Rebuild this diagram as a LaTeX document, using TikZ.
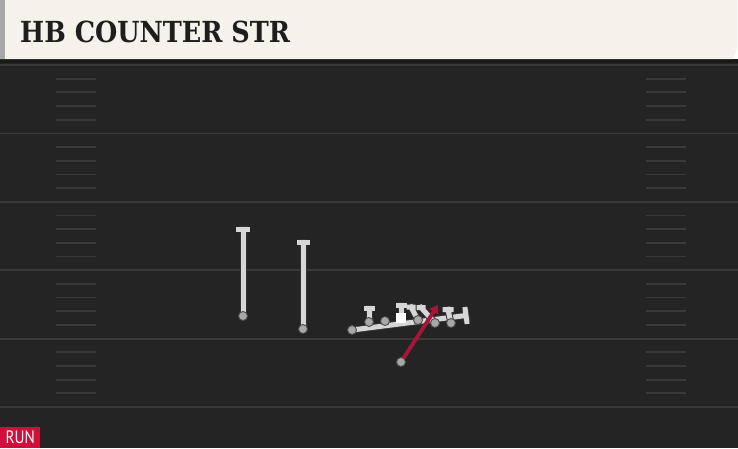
\documentclass[tikz,border=0pt]{standalone}
\usepackage{fontspec}
\usetikzlibrary{arrows.meta}
\newfontfamily\titlefont{DejaVu Serif}
\newfontfamily\tagfont{PT Sans}
\definecolor{field}{HTML}{242424}
\definecolor{yard}{HTML}{3A3A3A}
\definecolor{paper}{HTML}{F5F2EB}
\definecolor{ink}{HTML}{1E1E1E}
\definecolor{routegray}{HTML}{D6D6D6}
\definecolor{dotgray}{HTML}{A8A8A8}
\definecolor{runred}{HTML}{A8153A}
\definecolor{tagred}{HTML}{D0103A}
\pgfdeclarelayer{front}
\pgfsetlayers{main,front}

\begin{document}
\begin{tikzpicture}[x=1pt, y=-1pt,
  player/.style={circle, draw=black!70, fill=dotgray, line width=0.9pt, inner sep=0pt, minimum size=9pt},
  snap/.style={rectangle, fill=white, inner sep=0pt, minimum size=9.5pt},
  stem/.style={draw=routegray, line width=5pt, line cap=rect, preaction={draw=black!80, line width=7pt}},
  hash/.style={draw=yard, line width=1.8pt}]
\useasboundingbox (0,0) rectangle (738,448);

% field and yard lines
\fill[field] (0,59) rectangle (738,448);
\fill[black!90] (0,59) rectangle (738,63);
\foreach \i in {0,...,5}
  \draw[hash] (0,65+68.4*\i) -- (738,65+68.4*\i);
\foreach \i in {0,...,4}
  \foreach \k in {1,...,4} {
    \draw[hash] (56,65+68.4*\i+13.68*\k) -- (96,65+68.4*\i+13.68*\k);
    \draw[hash] (646,65+68.4*\i+13.68*\k) -- (686,65+68.4*\i+13.68*\k);
  }

% header
\fill[paper] (0,0) -- (737,0) -- (737,50) -- (732,59) -- (0,59) -- cycle;
\fill[black!35] (0,0) rectangle (5,59);
\node at (20,42.7) [anchor=base west, inner sep=0pt, text=ink, font=\titlefont\bfseries\fontsize{29}{29}\selectfont] (title) {\scalebox{0.88}[1]{HB COUNTER STR}};

% run tag
\node at (0,448) [anchor=south west, fill=tagred, text=white, inner sep=0pt, minimum width=40pt, minimum height=20.5pt, font=\tagfont\fontsize{18}{18}\selectfont] (tag) {\scalebox{0.85}[1]{RUN}};

% players
\begin{pgfonlayer}{front}
\node at (243,316) [player] (wrx) {};
\node at (303,329) [player] (wrz) {};
\node at (352,330) [player] (h) {};
\node at (369,322) [player] (lt) {};
\node at (385,321) [player] (lg) {};
\node at (401,318) [snap] (c) {};
\node at (418,320) [player] (rg) {};
\node at (435,323) [player] (rt) {};
\node at (451,323) [player] (te) {};
\node at (401,362) [player] (hb) {};
\end{pgfonlayer}

% route ends
\coordinate (wrx-end) at (243,229);
\coordinate (wrz-end) at (303,242);
\coordinate (h-end) at (466,315.5);
\coordinate (lt-end) at (369,308.5);
\coordinate (c-end) at (401,305.5);
\coordinate (rg-end) at (411,307);
\coordinate (rt-end) at (421,307.5);
\coordinate (te-end) at (448,309.5);
\coordinate (hb-end) at (438,305);

% routes and blocks
\draw[stem] (wrx.center) -- (wrx-end) ([xshift=-4.5pt]wrx-end) -- ([xshift=4.5pt]wrx-end);
\draw[stem] (wrz.center) -- (wrz-end) ([xshift=-4pt]wrz-end) -- ([xshift=4pt]wrz-end);
\draw[stem] (h.center) -- (h-end) (465.2,309.5) -- (466.8,321.5);
\draw[stem] (lt.center) -- (lt-end) ([xshift=-3pt]lt-end) -- ([xshift=3pt]lt-end);
\draw[stem] (c.center) -- (c-end) ([xshift=-3pt]c-end) -- ([xshift=3pt]c-end);
\draw[stem] (rg.center) -- (rg-end) ([xshift=-2pt]rg-end) -- ([xshift=2pt]rg-end);
\draw[stem] (rt.center) -- (rt-end) ([xshift=-2pt]rt-end) -- ([xshift=2pt]rt-end);
\draw[stem] (te.center) -- (te-end) ([xshift=-3pt]te-end) -- ([xshift=3pt]te-end);
\draw[runred, line width=3.8pt, -{Triangle[length=8pt, width=10pt]}] (hb.center) -- (hb-end);
\end{tikzpicture}
\end{document}
